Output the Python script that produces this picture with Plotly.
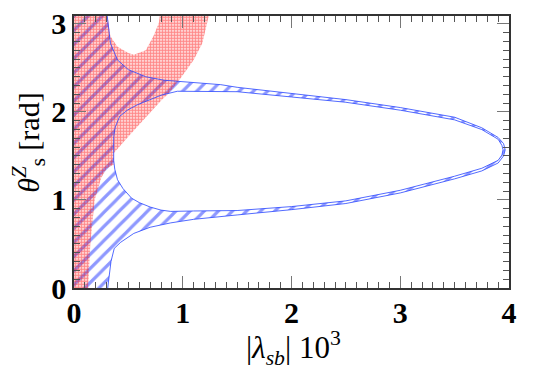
import plotly.graph_objects as go

# blue hatched band, outer edge: from theta = 0 round the tip at pi/2 up to the top
outer_lo_x = [0.31, 0.32, 0.34, 0.37, 0.43, 0.55, 0.70, 0.89, 1.10, 1.50, 2.00, 2.50, 3.00, 3.50, 3.75, 3.90, 3.95, 3.965]
outer_lo_y = [0.00, 0.10, 0.30, 0.45, 0.52, 0.62, 0.69, 0.74, 0.78, 0.83, 0.89, 0.96, 1.08, 1.24, 1.33, 1.42, 1.50, 1.57]
outer_up_x = [3.95, 3.90, 3.75, 3.50, 3.00, 2.50, 2.00, 1.50, 1.35, 0.98, 0.83, 0.66, 0.50, 0.40, 0.335, 0.295]
outer_up_y = [1.64, 1.71, 1.82, 1.94, 2.05, 2.14, 2.21, 2.28, 2.31, 2.34, 2.36, 2.40, 2.48, 2.59, 2.78, 3.20]

# inner (empty) region, clockwise from its left end
inner_up_x = [0.365, 0.365, 0.38, 0.42, 0.49, 0.58, 0.64, 0.80, 0.95, 1.50, 2.00, 2.50, 3.00, 3.50, 3.75, 3.90, 3.935, 3.945]
inner_up_y = [1.57, 1.72, 1.83, 1.95, 2.02, 2.08, 2.11, 2.19, 2.235, 2.23, 2.17, 2.11, 2.02, 1.91, 1.80, 1.69, 1.62, 1.57]
inner_lo_x = [3.935, 3.90, 3.75, 3.50, 3.00, 2.50, 2.00, 1.50, 1.10, 0.89, 0.80, 0.70, 0.60, 0.53, 0.45, 0.40, 0.375, 0.365]
inner_lo_y = [1.51, 1.45, 1.36, 1.27, 1.11, 0.99, 0.925, 0.88, 0.875, 0.87, 0.885, 0.92, 0.97, 1.02, 1.13, 1.23, 1.35, 1.45]

# red dotted region (band at small lambda plus fan, with a hole at the top)
red_x = [0.0, 0.13, 0.15, 0.19, 0.25, 0.30, 0.365, 0.365, 0.50, 0.72, 0.81, 0.87, 0.99, 1.10, 1.18, 1.26,
         0.80, 0.78, 0.73, 0.66, 0.55, 0.50, 0.40, 0.335, 0.295, 0.0]
red_y = [0.0, 0.0, 0.50, 1.00, 1.25, 1.36, 1.40, 1.53, 1.72, 2.02, 2.14, 2.21, 2.40, 2.59, 2.78, 3.20,
         3.20, 3.01, 2.86, 2.70, 2.65, 2.67, 2.74, 2.86, 3.20, 3.20]

x_ticks = [0, 1, 2, 3, 4]
y_ticks = [0, 1, 2, 3]

blue = "rgb(30,50,255)"
red = "rgb(255,20,20)"
serif = "Liberation Serif, Times New Roman, serif"

outer_x = [0.0] + outer_lo_x + outer_up_x + [0.0, 0.0]
outer_y = [0.0] + outer_lo_y + outer_up_y + [3.2, 0.0]
inner_x = inner_up_x + inner_lo_x + [inner_up_x[0]]
inner_y = inner_up_y + inner_lo_y + [inner_up_y[0]]

fig = go.Figure()

fig.add_trace(go.Scatter(
    x=outer_x + [None] + inner_x,
    y=outer_y + [None] + inner_y,
    mode="lines", fill="toself", line=dict(width=0),
    fillcolor="rgba(0,0,0,0)",
    fillpattern=dict(shape="/", fgcolor=blue, bgcolor="rgba(0,0,0,0)", size=10, solidity=0.32),
    hoverinfo="skip", showlegend=False,
))

fig.add_trace(go.Scatter(
    x=red_x, y=red_y,
    mode="lines", fill="toself", line=dict(width=0),
    fillcolor="rgba(0,0,0,0)",
    fillpattern=dict(shape=".", fgcolor=red, bgcolor="rgba(0,0,0,0)", size=3, solidity=0.7),
    hoverinfo="skip", showlegend=False,
))

# thin outlines of the blue band
for bx, by in [(outer_lo_x + outer_up_x, outer_lo_y + outer_up_y), (inner_x, inner_y)]:
    fig.add_trace(go.Scatter(
        x=bx, y=by, mode="lines",
        line=dict(color="rgba(40,70,255,0.8)", width=1),
        hoverinfo="skip", showlegend=False,
    ))

axis_style = dict(
    showline=True, linecolor="#333", linewidth=1.5, mirror="ticks",
    ticks="inside", ticklen=12, tickwidth=1, tickcolor="#777",
    minor=dict(ticks="inside", ticklen=6, tickcolor="#555", tickwidth=1),
    showgrid=False, zeroline=False, ticklabeloverflow="allow",
    tickfont=dict(family=serif, size=30, color="black", weight="bold"),
)

fig.update_xaxes(range=[0, 4], tickvals=x_ticks, minor_dtick=0.1, ticklabelstandoff=-3, **axis_style)
fig.update_yaxes(range=[0, 3.09], tickvals=y_ticks, minor_dtick=0.1, **axis_style)

# axis titles as annotations so they sit where the reference has them
fig.add_annotation(
    text="|<i>λ</i><sub><i>sb</i></sub>| 10<sup>3</sup>",
    x=2.02, xref="x", y=0, yref="paper", yshift=-60,
    xanchor="center", yanchor="middle", showarrow=False,
    font=dict(family=serif, size=31, color="black"),
)
fig.add_annotation(
    text="<i>θ</i><sup><i>Z</i></sup><sub>s</sub> [rad]",
    x=0, xref="paper", xshift=-45, y=1.65, yref="y",
    xanchor="center", yanchor="middle", textangle=-90, showarrow=False,
    font=dict(family=serif, size=30, color="black"),
)

# page body keeps its default 8px margin, so the margins are offset by that
fig.update_layout(
    width=554, height=378,
    margin=dict(l=66, r=53, t=8, b=98, autoexpand=False),
    plot_bgcolor="white", paper_bgcolor="white",
    showlegend=False,
)

fig.write_html("out.html")
